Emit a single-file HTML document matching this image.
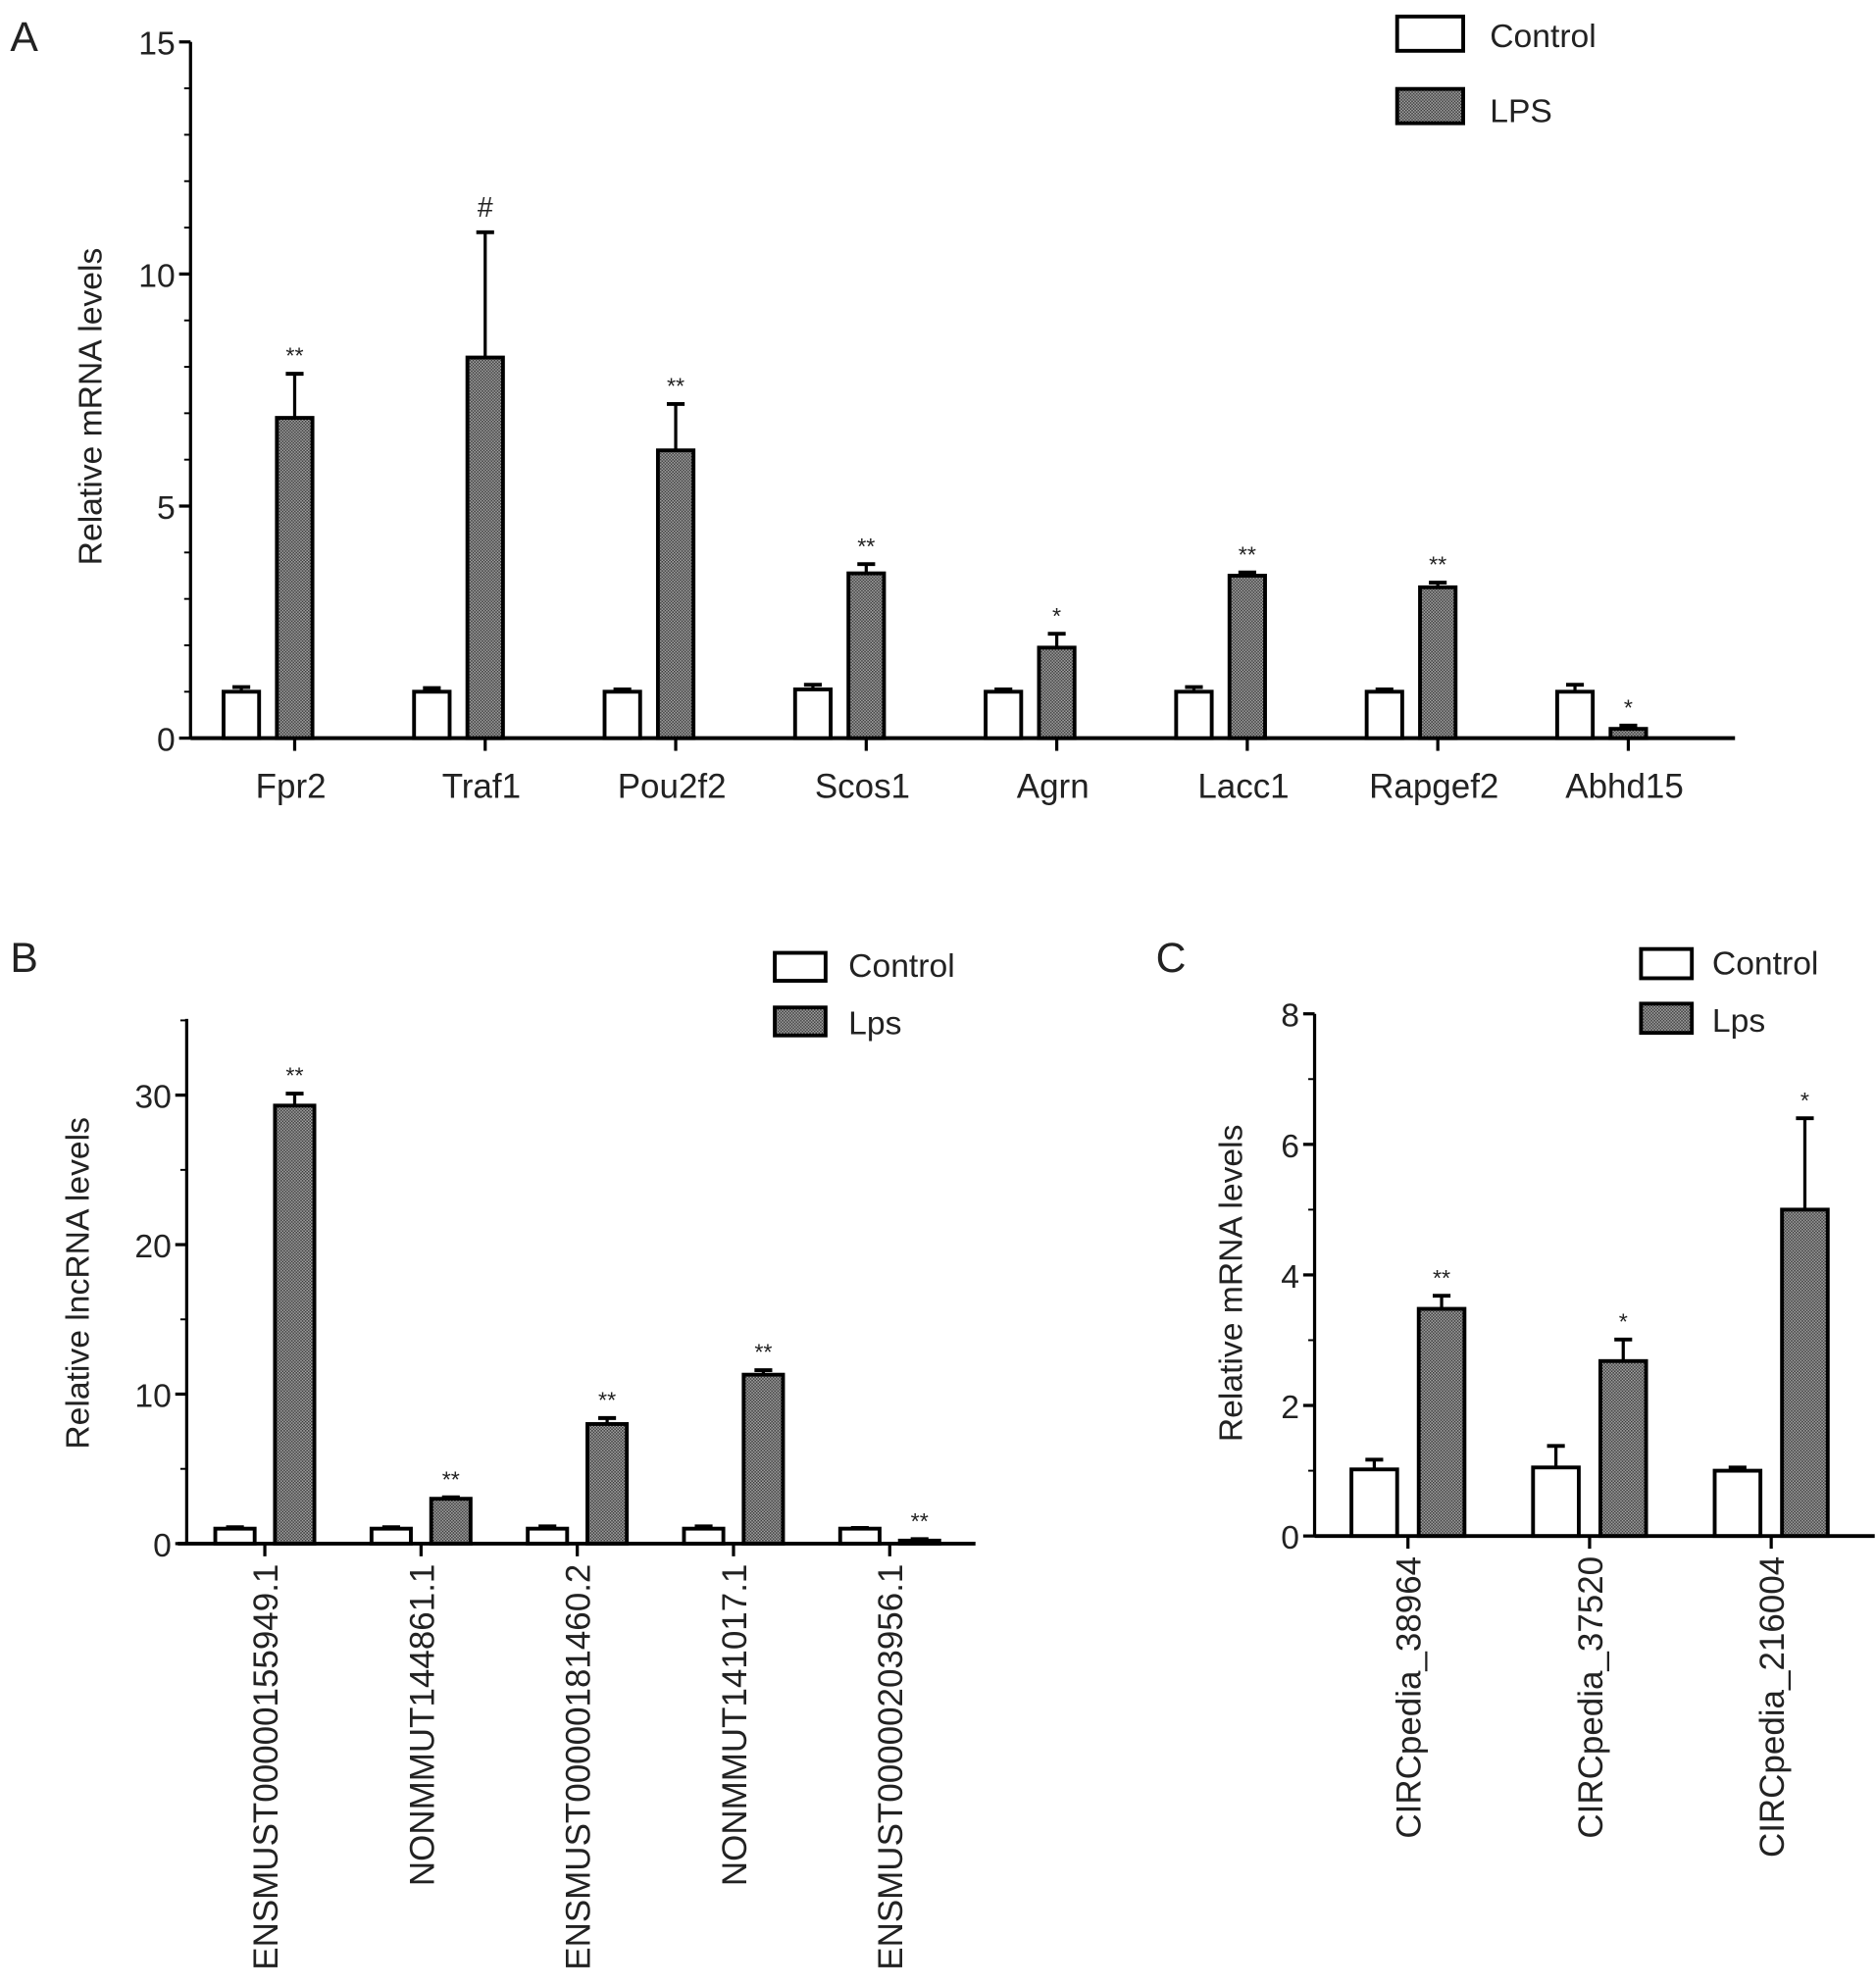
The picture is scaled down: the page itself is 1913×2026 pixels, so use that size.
<!DOCTYPE html>
<html><head><meta charset="utf-8"><style>
html,body{margin:0;padding:0;background:#fff}
svg{display:block}
text{font-family:"Liberation Sans",sans-serif;fill:#222}
</style></head><body>
<svg id="fig" width="1913" height="2026" viewBox="0 0 1477 1564" preserveAspectRatio="none">
<defs>
<pattern id="hatch" width="2.4" height="2.4" patternUnits="userSpaceOnUse">
<rect width="2.4" height="2.4" fill="#a8a8a8"/>
<rect width="1.2" height="1.2" fill="#3a3a3a"/>
<rect x="1.2" y="1.2" width="1.2" height="1.2" fill="#3a3a3a"/>
</pattern>
</defs>
</svg>
<script>
// Panel A data
const catsA=["Fpr2","Traf1","Pou2f2","Scos1","Agrn","Lacc1","Rapgef2","Abhd15"];
const ctrlA=[1.0,1.0,1.0,1.05,1.0,1.0,1.0,1.0];
const ctrlErrA=[0.1,0.08,0.05,0.1,0.05,0.1,0.05,0.15];
const lpsA=[6.9,8.2,6.2,3.55,1.95,3.5,3.25,0.2];
const lpsErrA=[0.95,2.7,1.0,0.2,0.3,0.07,0.1,0.07];
const sigA=["**","#","**","**","*","**","**","*"];
const ticksA=[0,5,10,15];
// Panel B data
const catsB=["ENSMUST00000155949.1","NONMMUT144861.1","ENSMUST00000181460.2","NONMMUT141017.1","ENSMUST00000203956.1"];
const ctrlB=[1.0,1.0,1.0,1.0,1.0];
const ctrlErrB=[0.1,0.1,0.15,0.15,0.05];
const lpsB=[29.3,3.0,8.0,11.3,0.2];
const lpsErrB=[0.8,0.1,0.4,0.3,0.1];
const sigB=["**","**","**","**","**"];
const ticksB=[0,10,20,30];
// Panel C data
const catsC=["CIRCpedia_38964","CIRCpedia_37520","CIRCpedia_216004"];
const ctrlC=[1.02,1.05,1.0];
const ctrlErrC=[0.15,0.33,0.05];
const lpsC=[3.48,2.68,5.0];
const lpsErrC=[0.2,0.33,1.4];
const sigC=["**","*","*"];
const ticksC=[0,2,4,6,8];

const NS="http://www.w3.org/2000/svg";
const svg=document.getElementById('fig');
function mk(tag,attrs,parent,txt){const e=document.createElementNS(NS,tag);for(const k in attrs)e.setAttribute(k,attrs[k]);if(txt!==undefined)e.textContent=txt;(parent||svg).appendChild(e);return e;}

function panel(o){
  const g=mk('g',{});
  
  
  const y=v=>o.y0-(v/o.max)*(o.y0-o.yTop);
  const ya=mk('line',{x1:o.ax,y1:o.axTop,x2:o.ax,y2:o.y0,stroke:'#000','stroke-width':2.5},g);
  
  const xa=mk('line',{x1:o.xStart,y1:o.y0,x2:o.xEnd,y2:o.y0,stroke:'#000','stroke-width':3},g);
  
  for(let v=0;v<=o.axMax+1e-9;v+=o.minor){const yy=y(v);mk('line',{x1:o.ax-5,y1:yy,x2:o.ax,y2:yy,stroke:'#000','stroke-width':1.5},g);}
  o.ticks.forEach(t=>{const yy=y(t);mk('line',{x1:o.ax-9,y1:yy,x2:o.ax,y2:yy,stroke:'#000','stroke-width':2.5},g);
    const tl=mk('text',{x:o.ax-12,y:yy+10,'text-anchor':'end','font-size':26},g,String(t));
    });
  const yt=mk('text',{x:0,y:0,'text-anchor':'middle','font-size':26,transform:`translate(${o.titleX},${o.titleY}) rotate(-90)`},g,o.title);
  
  o.cats.forEach((c,i)=>{
    const cx=o.c0+i*o.step, lx=cx+o.off;
    const e1=y(o.ctrl[i]+o.ctrlErr[i]);
    mk('line',{x1:cx,y1:e1,x2:cx,y2:y(o.ctrl[i]),stroke:'#000','stroke-width':2.5},g);
    mk('line',{x1:cx-7,y1:e1,x2:cx+7,y2:e1,stroke:'#000','stroke-width':3},g);
    const b1=mk('rect',{x:cx-o.bw/2,y:y(o.ctrl[i]),width:o.bw,height:o.y0-y(o.ctrl[i]),fill:'#fff',stroke:'#000','stroke-width':3},g);
    
    const e2=y(o.lps[i]+o.lpsErr[i]);
    mk('line',{x1:lx,y1:e2,x2:lx,y2:y(o.lps[i]),stroke:'#000','stroke-width':2.5},g);
    mk('line',{x1:lx-7,y1:e2,x2:lx+7,y2:e2,stroke:'#000','stroke-width':3},g);
    const b2=mk('rect',{x:lx-o.bw/2,y:y(o.lps[i]),width:o.bw,height:o.y0-y(o.lps[i]),fill:'url(#hatch)',stroke:'#000','stroke-width':3},g);
    
    const s=mk('text',{x:lx,y:e2-(o.sig[i]==='#'?12:8),'text-anchor':'middle','font-size':o.sig[i]==='#'?22:18},g,o.sig[i]);
    
    const tx=o.tickAt(cx,lx);
    mk('line',{x1:tx,y1:o.y0,x2:tx,y2:o.y0+10,stroke:'#000','stroke-width':2.5},g);
    let lab;
    if(o.rot){lab=mk('text',{x:0,y:0,'text-anchor':'end','font-size':27,transform:`translate(${tx+10},${o.y0+16}) rotate(-90)`},g,c);}
    else{lab=mk('text',{x:tx-3,y:o.y0+47,'text-anchor':'middle','font-size':27},g,c);}
    
  });
  const L=o.leg;
  const lb1=mk('rect',{x:L.x,y:L.y1,width:L.w,height:L.h,fill:'#fff',stroke:'#000','stroke-width':3},g);
  
  const lt1=mk('text',{x:L.tx,y:L.y1+L.h-3,'font-size':L.fs},g,'Control');
  
  const lb2=mk('rect',{x:L.x,y:L.y2,width:L.w,height:L.h,fill:'url(#hatch)',stroke:'#000','stroke-width':3},g);
  
  const lt2=mk('text',{x:L.tx,y:L.y2+L.h-1,'font-size':L.fs},g,o.lpsName);
  
  const pl=mk('text',{x:o.lx,y:o.ly,'font-size':33},g,o.letter);
  
}

panel({name:'panel-a',letter:'A',lx:8,ly:40,cats:catsA,ctrl:ctrlA,ctrlErr:ctrlErrA,lps:lpsA,lpsErr:lpsErrA,sig:sigA,ticks:ticksA,
  max:15,axMax:15,minor:1,ax:150,y0:581,yTop:33,axTop:33,xStart:150,xEnd:1366,c0:190,step:150,off:42,bw:28,
  title:'Relative mRNA levels',titleX:80,titleY:320,rot:false,tickAt:(c,l)=>l,lpsName:'LPS',
  leg:{x:1100,y1:13,y2:70,w:52,h:27,tx:1173,fs:26}});
panel({name:'panel-b',letter:'B',lx:8,ly:765,cats:catsB,ctrl:ctrlB,ctrlErr:ctrlErrB,lps:lpsB,lpsErr:lpsErrB,sig:sigB,ticks:ticksB,
  max:30,axMax:35,minor:5,ax:147,y0:1215,yTop:862,axTop:802,xStart:140,xEnd:768,c0:185,step:123,off:47,bw:31,
  title:'Relative lncRNA levels',titleX:70,titleY:1010,rot:true,tickAt:(c,l)=>(c+l)/2,lpsName:'Lps',
  leg:{x:610,y1:750,y2:793,w:40,h:22,tx:668,fs:26}});
panel({name:'panel-c',letter:'C',lx:910,ly:765,cats:catsC,ctrl:ctrlC,ctrlErr:ctrlErrC,lps:lpsC,lpsErr:lpsErrC,sig:sigC,ticks:ticksC,
  max:8,axMax:8,minor:1,ax:1035,y0:1209,yTop:798,axTop:798,xStart:1035,xEnd:1476,c0:1082,step:143,off:53,bw:36,
  title:'Relative mRNA levels',titleX:978,titleY:1010,rot:true,tickAt:(c,l)=>(c+l)/2,lpsName:'Lps',
  leg:{x:1292,y1:747,y2:790,w:40,h:23,tx:1348,fs:26}});
</script>
</body></html>
